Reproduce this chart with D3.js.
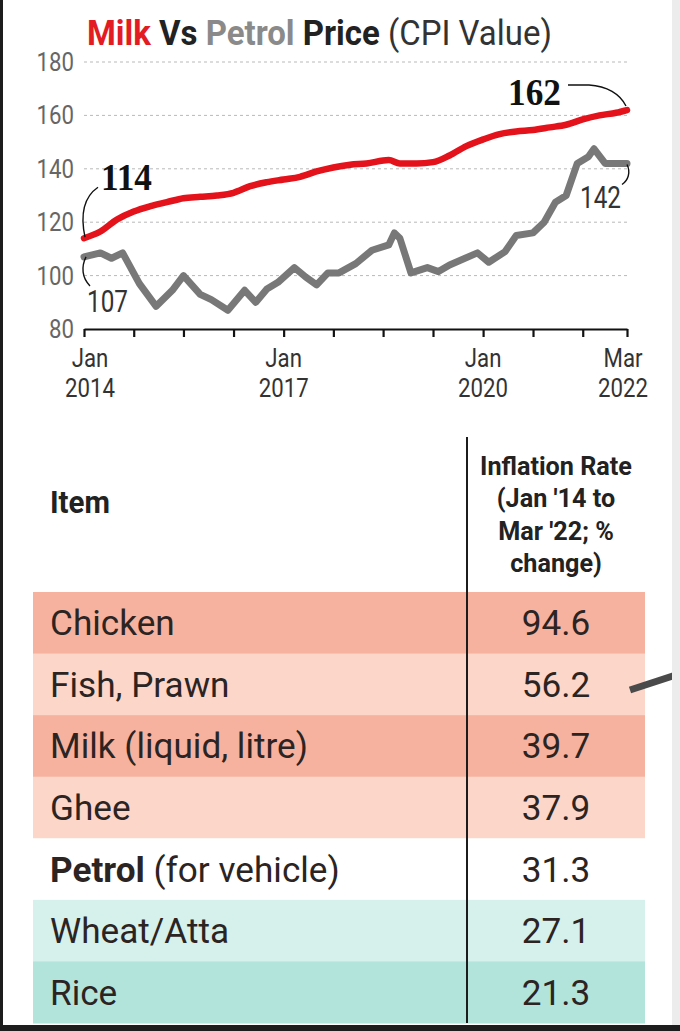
<!DOCTYPE html>
<html>
<head>
<meta charset="utf-8">
<script src="https://cdn.jsdelivr.net/npm/d3@7"></script>
<style>
  html, body { margin: 0; padding: 0; background: #fff; }
  svg { display: block; }
</style>
</head>
<body>
<div id="chart"></div>
<script>
const milkMonths = ["2014-01","2014-04","2014-07","2014-10","2015-01","2015-04","2015-07","2015-10",
  "2016-01","2016-04","2016-07","2016-10","2017-01","2017-04","2017-07","2017-10","2018-01","2018-04",
  "2018-08","2018-10","2019-01","2019-04","2019-07","2019-10","2020-01","2020-04","2020-07","2020-10",
  "2021-01","2021-04","2021-07","2021-10","2022-01","2022-03"];
const milkCPI = [114,116.5,121,124,126,127.5,129,129.5,130,131,133.5,135,136,137,139,140.5,141.5,142,
  143.3,142,142,142.5,145,148.5,151,153,154,154.5,155.5,156.5,158.5,160,161,162];

const petrolMonths = ["2014-01","2014-04","2014-06","2014-08","2014-11","2015-02","2015-05","2015-07",
  "2015-10","2015-12","2016-03","2016-06","2016-08","2016-10","2016-12","2017-03","2017-05","2017-07",
  "2017-09","2017-11","2018-02","2018-05","2018-08","2018-09","2018-10","2018-12","2019-03","2019-05",
  "2019-07","2019-12","2020-02","2020-05","2020-07","2020-10","2020-12","2021-02","2021-04","2021-06",
  "2021-08","2021-09","2021-11","2022-01","2022-03"];
const petrolCPI = [107,108.5,106.5,108.5,97,88.5,94.5,100,93,91,87,94.5,90,95,97.5,103,99.5,96.5,
  101,101,104.5,109.5,111.5,116,114,101,103,101.5,104,108.5,105,109,115,116,120,127.5,130,142,
  144.5,147.5,142,142,142];

const yTicks = [80, 100, 120, 140, 160, 180];
const xTickMonths = ["2014-01","2014-10","2015-07","2016-04","2017-01","2017-10","2018-07",
  "2019-04","2020-01","2020-10","2021-07","2022-03"];
const xTickLabels = { "2014-01": ["Jan","2014"], "2017-01": ["Jan","2017"],
  "2020-01": ["Jan","2020"], "2022-03": ["Mar","2022"] };

const items = ["Chicken","Fish, Prawn","Milk (liquid, litre)","Ghee","Petrol","Wheat/Atta","Rice"];
const itemNotes = ["","","","","(for vehicle)","",""];
const inflation = [94.6, 56.2, 39.7, 37.9, 31.3, 27.1, 21.3];
const rowColors = ["#f6b29e","#fbd6c9","#f6b29e","#fbd6c9","#ffffff","#d6f1ec","#b2e4dc"];
const headerLines = ["Inflation Rate","(Jan '14 to","Mar '22; %","change)"];

// ---- setup ----
const W = 680, H = 1031;
const SANS = "Roboto, 'Noto Sans', 'DejaVu Sans', sans-serif";
const SERIF = "'Liberation Serif', 'DejaVu Serif', serif";
const parse = d3.timeParse("%Y-%m");

const svg = d3.select('#chart').append('svg')
  .attr('width', W)
  .attr('height', H);

svg.append('rect').attr('width', W).attr('height', H).attr('fill', '#fff');

function setFont(sel, f) {
  sel.attr('font-family', f.family).attr('font-size', f.size).attr('font-weight', f.weight);
}

function measure(str, f) {
  const t = svg.append('text');
  setFont(t, f);
  t.text(str);
  const w = t.node().getComputedTextLength();
  t.remove();
  return w;
}

// text squeezed horizontally to mimic the narrow newspaper face
function place(parent, x, y, f, k, anchor) {
  const g = parent.append('g').attr('transform', `translate(${x},${y}) scale(${k},1)`);
  const t = g.append('text').attr('text-anchor', anchor || 'start');
  setFont(t, f);
  return t;
}

const fTitle = { family: SANS, size: 36, weight: 700 };
const fTick = { family: SANS, size: 26, weight: 400 };
const fBig = { family: SERIF, size: 37, weight: 700 };
const fSmall = { family: SANS, size: 31, weight: 400 };
const fItem = { family: SANS, size: 31, weight: 700 };
const fHead = { family: SANS, size: 26, weight: 700 };
const fRow = { family: SANS, size: 35, weight: 400 };

const kTick = 50 / measure("2014", fTick);
const kBig = 53 / measure("162", fBig);
const kSmall = 41 / measure("107", fSmall);
const kItem = 60 / measure("Item", fItem);
const kHead = 152 / measure("Inflation Rate", fHead);
const kRow = 258 / measure("Milk (liquid, litre)", fRow);

// ---- title ----
const title = place(svg, 87, 45, fTitle, 1, 'start');
title.append('tspan').attr('fill', '#e31b23').text('Milk');
title.append('tspan').attr('fill', '#222').text(' Vs ');
title.append('tspan').attr('fill', '#8a8a8a').text('Petrol');
title.append('tspan').attr('fill', '#222').text(' Price ');
title.append('tspan').attr('fill', '#333').attr('font-weight', 400).text('(CPI Value)');
const titleW = title.node().getComputedTextLength();
d3.select(title.node().parentNode).attr('transform', `translate(87,45) scale(${465 / titleW},1)`);

// ---- line chart ----
const x = d3.scaleTime()
  .domain([parse("2014-01"), parse("2022-03")])
  .range([84, 627]);
const y = d3.scaleLinear()
  .domain([80, 180])
  .range([329, 62]);

const grid = svg.append('g').attr('class', 'grid');
grid.selectAll('line')
  .data(yTicks.filter(d => d > 80))
  .enter()
  .append('line')
  .attr('x1', x.range()[0])
  .attr('x2', x.range()[1])
  .attr('y1', d => y(d))
  .attr('y2', d => y(d))
  .attr('stroke', '#b9b9b9')
  .attr('stroke-width', 1)
  .attr('stroke-dasharray', '3,3');

yTicks.forEach(v => {
  place(svg, 74, y(v) + 9, fTick, kTick, 'end')
    .attr('fill', '#666')
    .text(v);
});

// x axis
const xAxis = d3.axisBottom(x)
  .tickValues(xTickMonths.map(parse))
  .tickSize(8)
  .tickSizeOuter(0)
  .tickFormat('');
const axisG = svg.append('g')
  .attr('transform', `translate(0,${y(80)})`)
  .call(xAxis);
axisG.select('.domain').attr('stroke', '#111').attr('stroke-width', 2.2);
axisG.selectAll('.tick line').attr('stroke', '#111').attr('stroke-width', 2.2);

const labelKeys = Object.keys(xTickLabels);
labelKeys.forEach((m, i) => {
  const shift = i === 0 ? 6 : (i === labelKeys.length - 1 ? -4 : 0);
  const cx = x(parse(m)) + shift;
  place(svg, cx, 367, fTick, kTick, 'middle').attr('fill', '#333').text(xTickLabels[m][0]);
  place(svg, cx, 397, fTick, kTick, 'middle').attr('fill', '#333').text(xTickLabels[m][1]);
});

const petrol = petrolMonths.map((m, i) => ({ date: parse(m), value: petrolCPI[i] }));
const milk = milkMonths.map((m, i) => ({ date: parse(m), value: milkCPI[i] }));

svg.append('path')
  .datum(petrol)
  .attr('fill', 'none')
  .attr('stroke', '#787878')
  .attr('stroke-width', 7)
  .attr('stroke-linejoin', 'round')
  .attr('stroke-linecap', 'round')
  .attr('d', d3.line().x(d => x(d.date)).y(d => y(d.value)));

svg.append('path')
  .datum(milk)
  .attr('fill', 'none')
  .attr('stroke', '#e3121b')
  .attr('stroke-width', 6.5)
  .attr('stroke-linejoin', 'round')
  .attr('stroke-linecap', 'round')
  .attr('d', d3.line().curve(d3.curveMonotoneX).x(d => x(d.date)).y(d => y(d.value)));

// ---- end-point callouts ----
const ann = svg.append('g').attr('fill', 'none').attr('stroke', '#111').attr('stroke-width', 1.4);
const m0 = milk[0], m1 = milk[milk.length - 1];
const p0 = petrol[0], p1 = petrol[petrol.length - 1];

const a = [x(m0.date), y(m0.value)];
ann.append('path').attr('d', `M${a[0] + 1},${a[1] - 1} C${a[0] - 3},${a[1] - 20} ${a[0] - 2},${a[1] - 40} ${a[0] + 14},${a[1] - 51}`);
place(svg, a[0] + 17, a[1] - 48, fBig, kBig, 'start').attr('fill', '#111').text(m0.value);

const b = [x(p0.date), y(p0.value)];
ann.append('path').attr('d', `M${b[0] + 2},${b[1]} C${b[0] - 3},${b[1] + 10} ${b[0] - 2},${b[1] + 21} ${b[0] + 6},${b[1] + 29}`);
place(svg, b[0] + 3, b[1] + 55, fSmall, kSmall, 'start').attr('fill', '#333').text(p0.value);

const c = [x(m1.date), y(m1.value)];
ann.append('path').attr('d', `M${c[0] - 59},${c[1] - 25} L${c[0] - 38},${c[1] - 25} C${c[0] - 20},${c[1] - 24} ${c[0] - 7},${c[1] - 16} ${c[0] - 1},${c[1] - 4}`);
place(svg, c[0] - 66, c[1] - 5, fBig, kBig, 'end').attr('fill', '#111').text(m1.value);

const e = [x(p1.date), y(p1.value)];
ann.append('path').attr('d', `M${e[0]},${e[1] + 1} C${e[0] + 4},${e[1] + 9} ${e[0] + 1},${e[1] + 17} ${e[0] - 5},${e[1] + 21}`);
place(svg, e[0] - 6, e[1] + 45, fSmall, kSmall, 'end').attr('fill', '#333').text(p1.value);

// ---- table ----
const row = d3.scaleBand()
  .domain(d3.range(items.length))
  .range([592, 1023]);
const tableLeft = 33, tableRight = 645, divider = 467, valueX = 556;

svg.append('g')
  .selectAll('rect')
  .data(items)
  .enter()
  .append('rect')
  .attr('x', tableLeft)
  .attr('y', (d, i) => row(i))
  .attr('width', tableRight - tableLeft)
  .attr('height', row.bandwidth() + 0.5)
  .attr('fill', (d, i) => rowColors[i]);

place(svg, 50, 513, fItem, kItem, 'start').attr('fill', '#222').text('Item');
headerLines.forEach((l, i) => {
  place(svg, valueX, 475 + i * 32.3, fHead, kHead, 'middle').attr('fill', '#222').text(l);
});

items.forEach((name, i) => {
  const base = row(i) + row.bandwidth() / 2 + 12.5;
  const t = place(svg, 50, base, fRow, kRow, 'start').attr('fill', '#2b2423');
  if (itemNotes[i]) {
    t.append('tspan').attr('font-weight', 700).text(name);
    t.append('tspan').text(' ' + itemNotes[i]);
  } else {
    t.text(name);
  }
  place(svg, valueX, base, fRow, kRow, 'middle').attr('fill', '#2b2423')
    .text(d3.format('.1f')(inflation[i]));
});

svg.append('line')
  .attr('x1', divider).attr('x2', divider)
  .attr('y1', 437).attr('y2', row.range()[1])
  .attr('stroke', '#1c1c1c')
  .attr('stroke-width', 2);

// ---- page frame bits from the clipping ----
svg.append('line')
  .attr('x1', 630).attr('y1', 690).attr('x2', 682).attr('y2', 673)
  .attr('stroke', '#4a4a4a').attr('stroke-width', 7);
svg.append('rect').attr('x', 672).attr('y', 0).attr('width', 8).attr('height', H).attr('fill', '#ececec');
svg.append('rect').attr('x', 0).attr('y', 0).attr('width', 3).attr('height', H).attr('fill', '#1d1d1d');
svg.append('rect').attr('x', 0).attr('y', 1025).attr('width', W).attr('height', 6).attr('fill', '#1d1d1d');
</script>
</body>
</html>
